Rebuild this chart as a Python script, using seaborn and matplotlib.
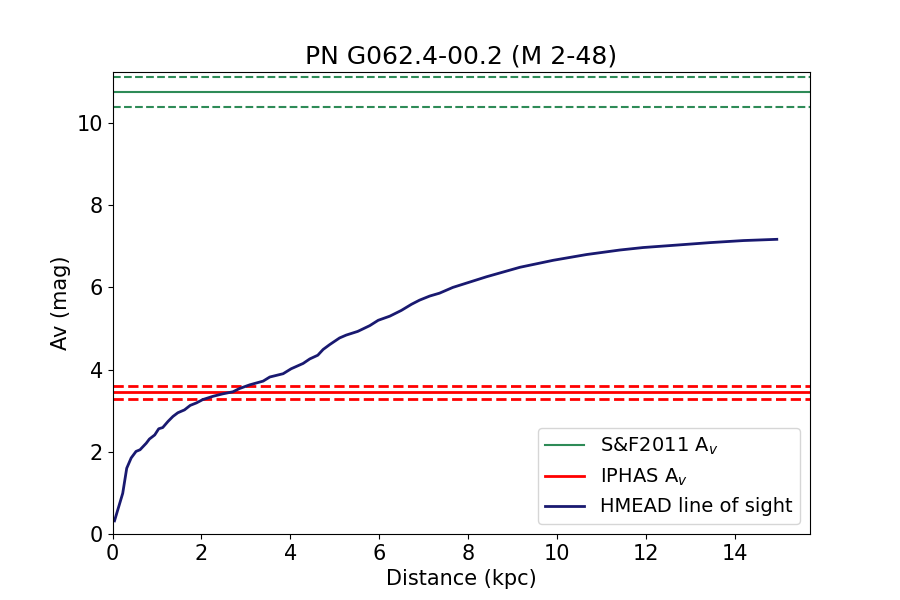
import matplotlib
matplotlib.use("Agg")
import matplotlib.pyplot as plt
import seaborn as sns
import pandas as pd

# HMEAD line-of-sight extinction curve
distance_kpc = [0.045, 0.23, 0.32, 0.42, 0.53, 0.62, 0.76, 0.83, 0.95, 1.04, 1.13, 1.25,
                1.36, 1.47, 1.62, 1.75, 1.89, 2.03, 2.26, 2.48, 2.71, 2.86, 3.09, 3.39,
                3.54, 3.84, 4.02, 4.29, 4.44, 4.62, 4.74, 4.89, 5.11, 5.26, 5.52, 5.79,
                5.98, 6.24, 6.50, 6.73, 6.91, 7.14, 7.36, 7.66, 8.42, 9.17, 9.92, 10.67,
                11.42, 11.94, 12.70, 13.45, 14.20, 14.95]
av_mag = [0.32, 0.99, 1.60, 1.85, 2.01, 2.05, 2.21, 2.31, 2.41, 2.56, 2.59, 2.74,
          2.86, 2.95, 3.02, 3.13, 3.19, 3.27, 3.35, 3.41, 3.46, 3.54, 3.63, 3.72,
          3.82, 3.90, 4.02, 4.15, 4.26, 4.35, 4.49, 4.61, 4.77, 4.84, 4.93, 5.07,
          5.20, 5.30, 5.44, 5.59, 5.69, 5.79, 5.86, 6.00, 6.26, 6.49, 6.66, 6.80,
          6.91, 6.97, 7.03, 7.09, 7.14, 7.17]

sf2011_av = 10.76
sf2011_err = 0.37
iphas_av = 3.45
iphas_err = 0.16

title = "PN G062.4-00.2 (M 2-48)"

df = pd.DataFrame({"Distance": distance_kpc, "Av": av_mag})

fig, ax = plt.subplots(figsize=(9, 6), dpi=100)

ax.axhline(sf2011_av, color="seagreen", lw=1.5, label="S&F2011 A$_v$")
ax.axhline(sf2011_av + sf2011_err, color="seagreen", lw=1.5, ls="--")
ax.axhline(sf2011_av - sf2011_err, color="seagreen", lw=1.5, ls="--")

ax.axhline(iphas_av, color="red", lw=2, label="IPHAS A$_v$")
ax.axhline(iphas_av + iphas_err, color="red", lw=2, ls="--")
ax.axhline(iphas_av - iphas_err, color="red", lw=2, ls="--")

sns.lineplot(data=df, x="Distance", y="Av", ax=ax, color="midnightblue", lw=2,
             label="HMEAD line of sight")

ax.set_xlim(0, max(distance_kpc) * 1.05)
ax.set_ylim(0, (sf2011_av + sf2011_err) * 1.01)
ax.set_xlabel("Distance (kpc)", fontsize=15)
ax.set_ylabel("Av (mag)", fontsize=15)
ax.set_title(title, fontsize=18)
ax.tick_params(labelsize=15)
ax.legend(loc="lower right", fontsize=14)

fig.savefig("out.png", dpi=100)
